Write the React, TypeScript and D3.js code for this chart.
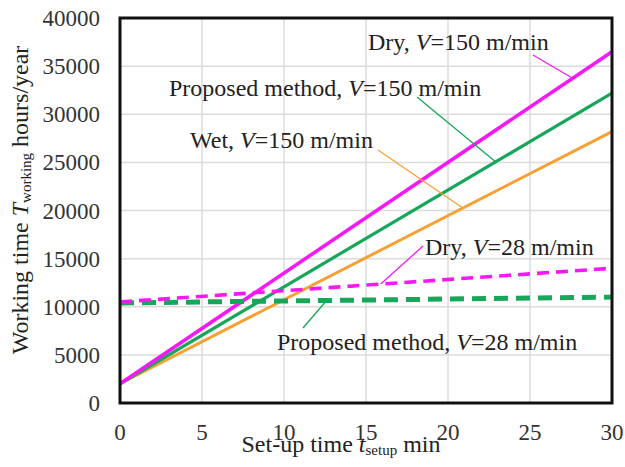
import React from "react";
import * as d3 from "d3";

const xTicks = [0, 5, 10, 15, 20, 25, 30];
const yTicks = [0, 5000, 10000, 15000, 20000, 25000, 30000, 35000, 40000];

// set-up time (min) sample points
const setupTimes = [0, 30];
// working time (hours/year)
const wet150 = [2000, 28200];
const proposed150 = [2000, 32200];
const dry150 = [2000, 36500];
const dry28 = [10500, 14000];
const proposed28 = [10400, 11000];

const seriesNames = ["Wet150", "Proposed150", "Dry150", "Proposed28", "Dry28"];

const W = 625;
const H = 467;
const M = { left: 120, right: 612, top: 18, bottom: 403 };
const FONT = "'Liberation Serif', 'Times New Roman', serif";

const MAGENTA = "#f51af5";
const GREEN = "#17a65a";
const ORANGE = "#f7a134";

export default function App() {
  const x = d3.scaleLinear().domain([0, 30]).range([M.left, M.right]);
  const y = d3.scaleLinear().domain([0, 40000]).range([M.bottom, M.top]);
  const line = d3
    .line<[number, number]>()
    .x((d) => x(d[0]))
    .y((d) => y(d[1]));
  const pts = (vals: number[]) => setupTimes.map((t, i) => [t, vals[i]] as [number, number]);
  const valAt = (vals: number[], t: number) => vals[0] + ((vals[1] - vals[0]) * t) / 30;

  const series = [
    { name: seriesNames[0], vals: wet150, color: ORANGE, w: 3, dash: undefined },
    { name: seriesNames[1], vals: proposed150, color: GREEN, w: 3.2, dash: undefined },
    { name: seriesNames[2], vals: dry150, color: MAGENTA, w: 3.6, dash: undefined },
    { name: seriesNames[3], vals: proposed28, color: GREEN, w: 5, dash: "14 8" },
    { name: seriesNames[4], vals: dry28, color: MAGENTA, w: 3.6, dash: "12 7" },
  ];

  const annotations = [
    { label: "Dry, ", rest: "=150 m/min", tx: 368, ty: 50, lx: 533, ly: 55, vals: dry150, t: 27.6, color: MAGENTA },
    { label: "Proposed method, ", rest: "=150 m/min", tx: 169, ty: 96, lx: 417, ly: 97, vals: proposed150, t: 22.9, color: GREEN },
    { label: "Wet, ", rest: "=150 m/min", tx: 190, ty: 148, lx: 378, ly: 150, vals: wet150, t: 20.9, color: ORANGE },
    { label: "Dry, ", rest: "=28 m/min", tx: 425, ty: 255, lx: 423, ly: 246, vals: dry28, t: 15.9, color: MAGENTA },
    { label: "Proposed method, ", rest: "=28 m/min", tx: 277, ty: 350, lx: 303, ly: 328, vals: proposed28, t: 12.6, color: GREEN },
  ];

  return (
    <svg
      width={W}
      height={H}
      style={{ position: "absolute", left: 0, top: 0, background: "#fff" }}
      fontFamily={FONT}
    >
      {/* grid */}
      {xTicks.map((t) => (
        <line key={"gx" + t} x1={x(t)} x2={x(t)} y1={M.top} y2={M.bottom} stroke="#dcdcdc" strokeWidth={1.5} />
      ))}
      {yTicks.map((t) => (
        <line key={"gy" + t} x1={M.left} x2={M.right} y1={y(t)} y2={y(t)} stroke="#dcdcdc" strokeWidth={1.5} />
      ))}

      {/* series */}
      {series.map((s) => (
        <path
          key={s.name}
          d={line(pts(s.vals)) || ""}
          fill="none"
          stroke={s.color}
          strokeWidth={s.w}
          strokeDasharray={s.dash}
        />
      ))}

      {/* leaders */}
      {annotations.map((a, i) => (
        <line key={"ld" + i} x1={a.lx} y1={a.ly} x2={x(a.t)} y2={y(valAt(a.vals, a.t))} stroke={a.color} strokeWidth={1.3} />
      ))}

      {/* annotation text */}
      {annotations.map((a, i) => (
        <text key={"tx" + i} x={a.tx} y={a.ty} fontSize={24} fill="#222">
          {a.label}
          <tspan fontStyle="italic">V</tspan>
          {a.rest}
        </text>
      ))}

      {/* frame */}
      <rect x={M.left} y={M.top} width={M.right - M.left} height={M.bottom - M.top} fill="none" stroke="#111" strokeWidth={3} />

      {/* tick labels */}
      {yTicks.map((t) => (
        <text key={"yl" + t} x={100} y={y(t) + 8} fontSize={23} textAnchor="end" fill="#333">
          {t}
        </text>
      ))}
      {xTicks.map((t) => (
        <text key={"xl" + t} x={x(t)} y={440} fontSize={23} textAnchor="middle" fill="#333">
          {t}
        </text>
      ))}

      {/* axis titles */}
      <text x={341} y={452} fontSize={24} textAnchor="middle" fill="#222">
        Set-up time <tspan fontStyle="italic">t</tspan>
        <tspan fontSize={15} dy={3}>setup</tspan>
        <tspan dy={-3}> min</tspan>
      </text>
      <text transform="translate(28,200) rotate(-90)" fontSize={24} textAnchor="middle" fill="#222">
        Working time <tspan fontStyle="italic">T</tspan>
        <tspan fontSize={15} dy={3}>working</tspan>
        <tspan dy={-3}> hours/year</tspan>
      </text>
    </svg>
  );
}
